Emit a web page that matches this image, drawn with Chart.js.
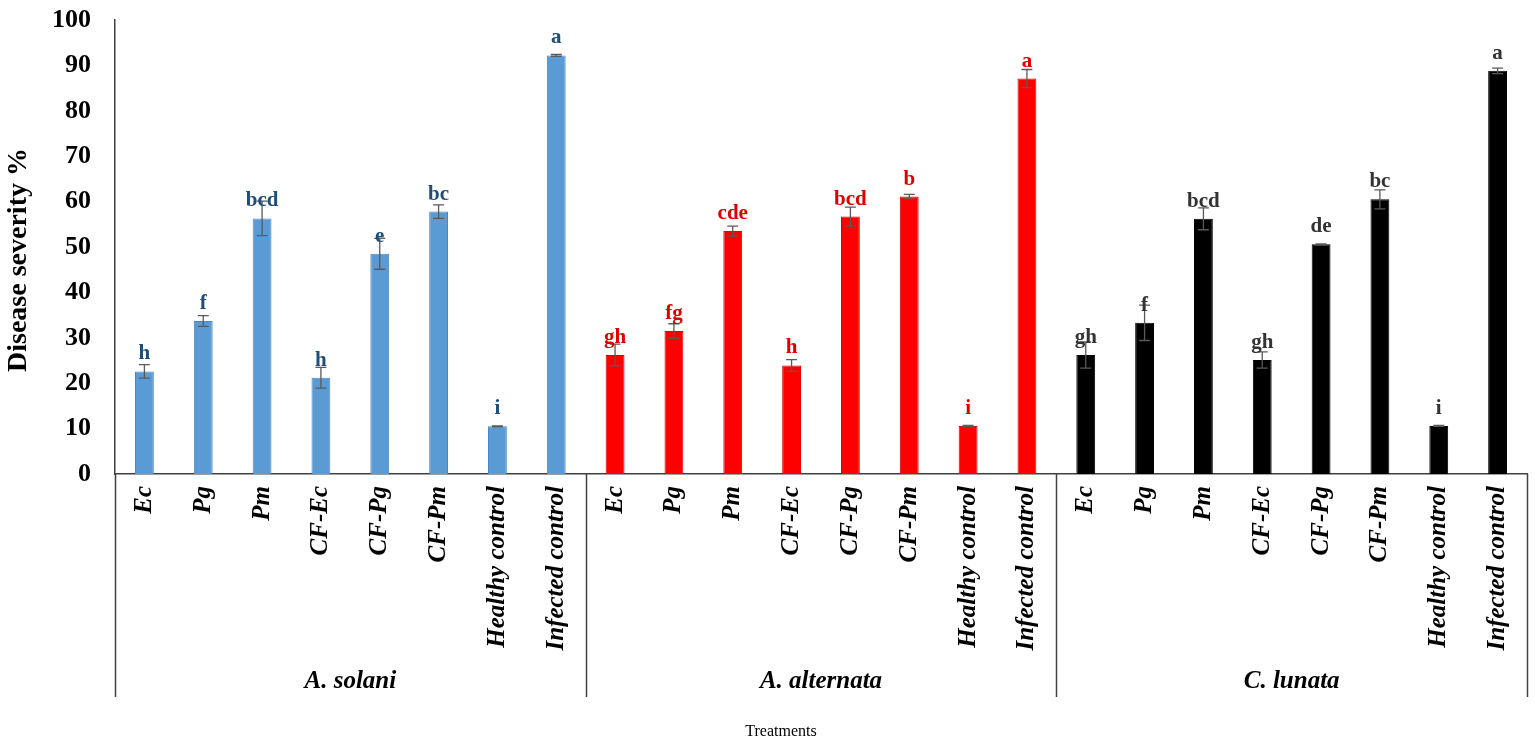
<!DOCTYPE html>
<html>
<head>
<meta charset="utf-8">
<script src="https://cdn.jsdelivr.net/npm/chart.js@4.4.1/dist/chart.umd.min.js"></script>
<style>
  html, body { margin: 0; padding: 0; background: #ffffff; }
  #wrap { width: 1535px; height: 747px; position: relative; }
</style>
</head>
<body>
<div id="wrap"><canvas id="c"></canvas></div>
<script>
// ---- data ----
const treatments = ['Ec', 'Pg', 'Pm', 'CF-Ec', 'CF-Pg', 'CF-Pm', 'Healthy control', 'Infected control'];
const groups = ['A. solani', 'A. alternata', 'C. lunata'];

const solaniValues = [22.6, 33.7, 56.3, 21.2, 48.5, 57.8, 10.5, 92.2];
const solaniErrors = [1.5, 1.2, 3.8, 2.3, 3.4, 1.5, 0.1, 0.2];
const solaniLetters = ['h', 'f', 'bcd', 'h', 'e', 'bc', 'i', 'a'];

const alternataValues = [26.2, 31.5, 53.5, 23.9, 56.7, 61.1, 10.6, 87.1];
const alternataErrors = [2.4, 1.6, 1.1, 1.3, 2.1, 0.5, 0.1, 2.0];
const alternataLetters = ['gh', 'fg', 'cde', 'h', 'bcd', 'b', 'i', 'a'];

const lunataValues = [26.2, 33.3, 56.2, 25.1, 50.6, 60.5, 10.6, 88.8];
const lunataErrors = [2.9, 3.9, 2.4, 1.8, 0.1, 2.1, 0.1, 0.6];
const lunataLetters = ['gh', 'f', 'bcd', 'gh', 'de', 'bc', 'i', 'a'];

const yTicks = [0, 10, 20, 30, 40, 50, 60, 70, 80, 90, 100];
const yTitle = 'Disease severity %';
const xTitle = 'Treatments';

// ---- build ----
const seriesValues = [solaniValues, alternataValues, lunataValues];
const seriesErrors = [solaniErrors, alternataErrors, lunataErrors];
const seriesLetters = [solaniLetters, alternataLetters, lunataLetters];
const barColors = ['#5B9BD5', '#FF0000', '#000000'];
const borderColors = ['#4A86C0', '#E00000', '#000000'];
const letterColors = ['#1F4E79', '#E00000', '#333333'];

const labels = [];
groups.forEach(() => treatments.forEach(t => labels.push(t)));
const n = treatments.length;

const datasets = seriesValues.map((vals, g) => {
  const data = labels.map((_, i) => (Math.floor(i / n) === g ? vals[i % n] : null));
  return {
    label: groups[g],
    data: data,
    backgroundColor: barColors[g],
    borderColor: borderColors[g],
    borderWidth: 1,
    grouped: false,
    barPercentage: 0.32,
    categoryPercentage: 1.0
  };
});

const SERIF = '"Liberation Serif", "Times New Roman", "DejaVu Serif", serif';

const annotatePlugin = {
  id: 'annotate',
  afterDatasetsDraw(chart) {
    const ctx = chart.ctx;
    const x = chart.scales.x, y = chart.scales.y;
    ctx.save();
    seriesValues.forEach((vals, g) => {
      vals.forEach((v, k) => {
        const idx = g * n + k;
        const px = x.getPixelForValue(idx);
        const e = seriesErrors[g][k];
        const yTop = y.getPixelForValue(v + e);
        const yBot = y.getPixelForValue(v - e);
        const cap = 5.5;
        ctx.strokeStyle = '#5a5a5a';
        ctx.lineWidth = 1.3;
        ctx.beginPath();
        ctx.moveTo(px, yTop); ctx.lineTo(px, yBot);
        ctx.moveTo(px - cap, yTop); ctx.lineTo(px + cap, yTop);
        ctx.moveTo(px - cap, yBot); ctx.lineTo(px + cap, yBot);
        ctx.stroke();
        // letters
        const barTop = y.getPixelForValue(v);
        ctx.fillStyle = letterColors[g];
        ctx.font = 'bold 21px ' + SERIF;
        ctx.textAlign = 'center';
        ctx.textBaseline = 'alphabetic';
        ctx.fillText(seriesLetters[g][k], px, barTop - 12);
      });
    });
    ctx.restore();
  },
  afterDraw(chart) {
    const ctx = chart.ctx;
    const area = chart.chartArea;
    const bottom = 697;
    ctx.save();
    ctx.strokeStyle = '#404040';
    ctx.lineWidth = 1.5;
    const step = (area.right - area.left) / labels.length;
    for (let g = 0; g <= groups.length; g++) {
      const sx = Math.round(area.left + g * n * step) + 0.5;
      ctx.beginPath();
      ctx.moveTo(sx, area.bottom);
      ctx.lineTo(sx, bottom);
      ctx.stroke();
    }
    ctx.fillStyle = '#000000';
    ctx.font = 'italic bold 25px ' + SERIF;
    ctx.textAlign = 'center';
    ctx.textBaseline = 'middle';
    groups.forEach((name, g) => {
      const cx = area.left + (g * n + n / 2) * step;
      ctx.fillText(name, cx, 682);
    });
    ctx.font = '16px ' + SERIF;
    ctx.fillText(xTitle, (area.left + area.right) / 2 - 40, 732);
    // y axis title
    ctx.save();
    ctx.translate(19, 260);
    ctx.rotate(-Math.PI / 2);
    ctx.font = 'bold 28px ' + SERIF;
    ctx.fillText(yTitle, 0, 0);
    ctx.restore();
    ctx.restore();
  }
};

function zeroPadding(scale) {
  scale.paddingTop = 0;
  scale.paddingBottom = 0;
  scale.paddingLeft = 0;
  scale.paddingRight = 0;
}

new Chart(document.getElementById('c'), {
  type: 'bar',
  data: { labels: labels, datasets: datasets },
  options: {
    responsive: true,
    maintainAspectRatio: false,
    animation: false,
    layout: { padding: { top: 20, right: 8, bottom: 0, left: 0 } },
    plugins: {
      legend: { display: false },
      tooltip: { enabled: false }
    },
    scales: {
      x: {
        type: 'category',
        grid: { display: false, drawTicks: false },
        border: { display: true, color: '#404040', width: 1.5 },
        ticks: {
          autoSkip: false,
          minRotation: 90,
          maxRotation: 90,
          padding: 12,
          color: '#000000',
          font: { family: SERIF, size: 25, weight: 'bold', style: 'italic' }
        },
        afterFit(scale) { scale.height = 273; zeroPadding(scale); }
      },
      y: {
        min: 0,
        max: 100,
        afterBuildTicks(scale) { scale.ticks = yTicks.map(v => ({ value: v })); },
        grid: { display: false, drawTicks: false },
        border: { display: true, color: '#404040', width: 1.5 },
        ticks: {
          padding: 24,
          color: '#000000',
          font: { family: SERIF, size: 26, weight: 'bold' }
        },
        title: { display: false },
        afterFit(scale) { scale.width = 115; zeroPadding(scale); }
      }
    }
  },
  plugins: [annotatePlugin]
});
</script>
</body>
</html>
